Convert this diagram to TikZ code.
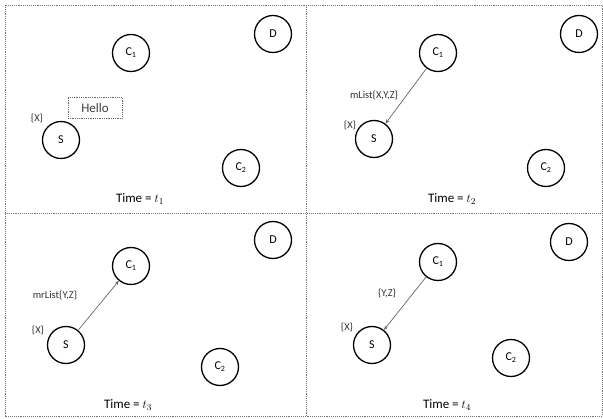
\documentclass[tikz,border=0pt]{standalone}
\usepackage{fontspec}
\setmainfont{Carlito}
\usetikzlibrary{arrows.meta}
\tikzset{stn/.style={circle,draw=black,line width=1.3pt,minimum size=37pt,inner sep=0pt,font=\fontsize{12}{13}\selectfont},
  lst/.style={inner sep=1pt,font=\fontsize{10.5}{12}\selectfont,text=black!80},
  tme/.style={inner sep=1pt,font=\fontsize{13}{15}\selectfont},
  msg/.style={draw=black!60,line width=0.7pt,-{Stealth[length=4.5pt,width=3.5pt]}},
  frame/.style={draw=black!55,line width=0.9pt,densely dotted}}

\begin{document}
\begin{tikzpicture}[x=1pt,y=-1pt]
\useasboundingbox (0,0) rectangle (603,419);
\draw[frame] (5,5) rectangle (602,416);
\draw[frame] (306,5) -- (306,416);
\draw[frame] (5,213) -- (602,213);
% time t1
\node[stn] (c1a) at (131,53) {C\textsubscript{1}};
\node[stn] (da) at (273,34) {D};
\node[stn] (sa) at (61,140) {S};
\node[stn] (c2a) at (241,168) {C\textsubscript{2}};
\node[draw=black!60,densely dotted,line width=0.8pt,minimum width=54pt,minimum height=21pt,font=\fontsize{13}{15}\selectfont,text=black!75] (hello) at (95,108) {Hello};
\node[lst] (xa) at (37,118) {\{X\}};
\node[tme] (ta) at (140,199) {Time = $t_1$};
% time t2
\node[stn] (c1b) at (438,53) {C\textsubscript{1}};
\node[stn] (db) at (579,34) {D};
\node[stn] (sb) at (374,139) {S};
\node[stn] (c2b) at (546,168) {C\textsubscript{2}};
\node[lst] (mb) at (374,95) {mList\{X,Y,Z\}};
\node[lst] (xb) at (350,125) {\{X\}};
\node[tme] (tb) at (452,199) {Time = $t_2$};
\draw[msg] (c1b) -- (sb);
% time t3
\node[stn] (c1c) at (131,266) {C\textsubscript{1}};
\node[stn] (dc) at (273,240) {D};
\node[stn] (sc) at (66,345) {S};
\node[stn] (c2c) at (220,367) {C\textsubscript{2}};
\node[lst] (mc) at (55,295) {mrList\{Y,Z\}};
\node[lst] (xc) at (38,330) {\{X\}};
\node[tme] (tc) at (128,405) {Time = $t_3$};
\draw[msg] (sc) -- (c1c);
% time t4
\node[stn] (c1d) at (438,262) {C\textsubscript{1}};
\node[stn] (dd) at (569,242) {D};
\node[stn] (sd) at (372,345) {S};
\node[stn] (c2d) at (511,358) {C\textsubscript{2}};
\node[lst] (md) at (387,293) {\{Y,Z\}};
\node[lst] (xd) at (347,327) {\{X\}};
\node[tme] (td) at (447,405) {Time = $t_4$};
\draw[msg] (c1d) -- (sd);
\end{tikzpicture}
\end{document}
